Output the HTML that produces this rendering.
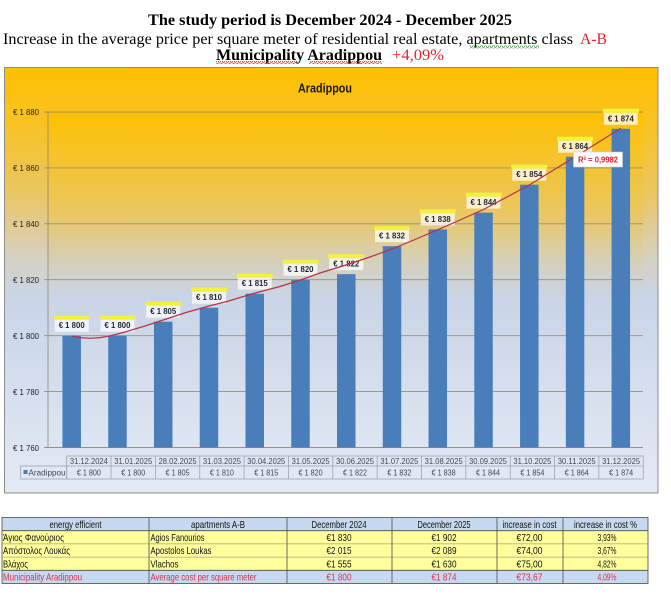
<!DOCTYPE html>
<html><head><meta charset="utf-8"><style>
html,body{margin:0;padding:0;background:#fff;}
svg{display:block;}
text{font-family:"Liberation Sans",sans-serif;}
.serif{font-family:"Liberation Serif",serif;}
</style></head><body>
<svg width="671" height="598" viewBox="0 0 671 598" xmlns="http://www.w3.org/2000/svg">
<defs>
<linearGradient id="gOut" x1="0" y1="0" x2="0" y2="1">
<stop offset="0" stop-color="#FFC000"/>
<stop offset="0.11" stop-color="#FAC21C"/>
<stop offset="0.29" stop-color="#EBC560"/>
<stop offset="0.45" stop-color="#D5D1C4"/>
<stop offset="0.55" stop-color="#C8D5EA"/>
<stop offset="1" stop-color="#E4EAF4"/>
</linearGradient>
<linearGradient id="gPlot" x1="0" y1="0" x2="0" y2="1">
<stop offset="0" stop-color="#FFC000"/>
<stop offset="0.3" stop-color="#EAC760"/>
<stop offset="0.45" stop-color="#D5D0BC"/>
<stop offset="0.55" stop-color="#C9D4E6"/>
<stop offset="1" stop-color="#DDE6F2"/>
</linearGradient>
<pattern id="wvR" width="4" height="3" patternUnits="userSpaceOnUse"><path d="M0 2.5 L1 0.5 L2 0.5 L3 2.5 L4 2.5" fill="none" stroke="#e03030" stroke-width="0.8"/></pattern>
<pattern id="wvG" width="4" height="3" patternUnits="userSpaceOnUse"><path d="M0 2.5 L1 0.5 L2 0.5 L3 2.5 L4 2.5" fill="none" stroke="#40a040" stroke-width="0.8"/></pattern>
</defs>

<!-- Headings -->
<text class="serif" x="148" y="25" font-size="16" font-weight="bold" textLength="364" lengthAdjust="spacingAndGlyphs" style="font-family:'Liberation Serif',serif">The study period is December 2024 - December 2025</text>
<text x="3" y="44" font-size="16" textLength="570" lengthAdjust="spacingAndGlyphs" style="font-family:'Liberation Serif',serif">Increase in the average price per square meter of residential real estate, apartments class</text>
<text x="580" y="44" font-size="16" fill="#e8202a" textLength="27" lengthAdjust="spacingAndGlyphs" style="font-family:'Liberation Serif',serif">A-B</text>
<rect x="469" y="45.5" width="70" height="3" fill="url(#wvG)"/>
<text x="216" y="60" font-size="16" font-weight="bold" textLength="166" lengthAdjust="spacingAndGlyphs" style="font-family:'Liberation Serif',serif">Municipality  Aradippou</text>
<text x="392" y="60" font-size="16" fill="#e8202a" textLength="52" lengthAdjust="spacingAndGlyphs" style="font-family:'Liberation Serif',serif">+4,09%</text>
<rect x="216" y="61" width="82" height="3" fill="url(#wvR)"/>
<rect x="309" y="61" width="73" height="3" fill="url(#wvR)"/>

<!-- Chart area -->
<rect x="4.5" y="67.5" width="653.5" height="425.5" fill="url(#gOut)" stroke="#8c8c8c" stroke-width="1"/>
<rect x="48" y="112" width="595" height="335.5" fill="url(#gPlot)"/>
<text x="325" y="92.5" font-size="12.5" font-weight="bold" fill="#1a1a1a" text-anchor="middle" textLength="54" lengthAdjust="spacingAndGlyphs">Aradippou</text>

<!-- gridlines -->
<g stroke="#8a8470" stroke-width="0.9" opacity="0.85">
<line x1="44" y1="112" x2="643" y2="112"/>
<line x1="44" y1="167.9" x2="643" y2="167.9"/>
<line x1="44" y1="223.8" x2="643" y2="223.8"/>
<line x1="44" y1="279.7" x2="643" y2="279.7"/>
<line x1="44" y1="335.7" x2="643" y2="335.7"/>
<line x1="44" y1="391.6" x2="643" y2="391.6"/>
<line x1="44" y1="447.5" x2="643" y2="447.5"/>
<line x1="48" y1="112" x2="48" y2="447.5"/>
</g>

<!-- y labels -->
<g font-size="8.5" fill="#222" text-anchor="end">
<text x="39" y="115" textLength="26" lengthAdjust="spacingAndGlyphs">€ 1 880</text>
<text x="39" y="171" textLength="26" lengthAdjust="spacingAndGlyphs">€ 1 860</text>
<text x="39" y="227" textLength="26" lengthAdjust="spacingAndGlyphs">€ 1 840</text>
<text x="39" y="283" textLength="26" lengthAdjust="spacingAndGlyphs">€ 1 820</text>
<text x="39" y="339" textLength="26" lengthAdjust="spacingAndGlyphs">€ 1 800</text>
<text x="39" y="395" textLength="26" lengthAdjust="spacingAndGlyphs">€ 1 780</text>
<text x="39" y="451" textLength="26" lengthAdjust="spacingAndGlyphs">€ 1 760</text>
</g>

<!-- bars -->
<g fill="#4A7EBB">
<rect x="62.45" y="335.66" width="18.5" height="111.84"/>
<rect x="108.21" y="335.66" width="18.5" height="111.84"/>
<rect x="153.97" y="321.68" width="18.5" height="125.82"/>
<rect x="199.73" y="307.7" width="18.5" height="139.8"/>
<rect x="245.49" y="293.72" width="18.5" height="153.78"/>
<rect x="291.25" y="279.74" width="18.5" height="167.76"/>
<rect x="337.01" y="274.15" width="18.5" height="173.35"/>
<rect x="382.77" y="246.19" width="18.5" height="201.31"/>
<rect x="428.53" y="229.41" width="18.5" height="218.09"/>
<rect x="474.29" y="212.64" width="18.5" height="234.86"/>
<rect x="520.05" y="184.68" width="18.5" height="262.82"/>
<rect x="565.81" y="156.72" width="18.5" height="290.78"/>
<rect x="611.57" y="128.76" width="18.5" height="318.74"/>
</g>

<!-- data labels -->
<g>
<g fill="#F2F23A">
<rect x="53.7" y="315.7" width="36" height="4"/>
<rect x="99.46" y="315.7" width="36" height="4"/>
<rect x="145.22" y="301.7" width="36" height="4"/>
<rect x="190.98" y="287.7" width="36" height="4"/>
<rect x="236.74" y="273.7" width="36" height="4"/>
<rect x="282.5" y="259.7" width="36" height="4"/>
<rect x="328.26" y="254.2" width="36" height="4"/>
<rect x="374.02" y="226.2" width="36" height="4"/>
<rect x="419.78" y="209.4" width="36" height="4"/>
<rect x="465.54" y="192.6" width="36" height="4"/>
<rect x="511.3" y="164.7" width="36" height="4"/>
<rect x="557.06" y="136.7" width="36" height="4"/>
<rect x="602.82" y="108.8" width="36" height="4"/>
</g>
<g fill="#ffffff" opacity="0.72">
<rect x="54.7" y="319.7" width="34" height="12"/>
<rect x="100.46" y="319.7" width="34" height="12"/>
<rect x="146.22" y="305.7" width="34" height="12"/>
<rect x="191.98" y="291.7" width="34" height="12"/>
<rect x="237.74" y="277.7" width="34" height="12"/>
<rect x="283.5" y="263.7" width="34" height="12"/>
<rect x="329.26" y="258.2" width="34" height="12"/>
<rect x="375.02" y="230.2" width="34" height="12"/>
<rect x="420.78" y="213.4" width="34" height="12"/>
<rect x="466.54" y="196.6" width="34" height="12"/>
<rect x="512.3" y="168.7" width="34" height="12"/>
<rect x="558.06" y="140.7" width="34" height="12"/>
<rect x="603.82" y="112.8" width="34" height="12"/>
</g>
<g font-size="8.5" font-weight="bold" fill="#1f2838" text-anchor="middle">
<text x="71.7" y="328.2" textLength="26" lengthAdjust="spacingAndGlyphs">€ 1 800</text>
<text x="117.46" y="328.2" textLength="26" lengthAdjust="spacingAndGlyphs">€ 1 800</text>
<text x="163.22" y="314.2" textLength="26" lengthAdjust="spacingAndGlyphs">€ 1 805</text>
<text x="208.98" y="300.2" textLength="26" lengthAdjust="spacingAndGlyphs">€ 1 810</text>
<text x="254.74" y="286.2" textLength="26" lengthAdjust="spacingAndGlyphs">€ 1 815</text>
<text x="300.5" y="272.2" textLength="26" lengthAdjust="spacingAndGlyphs">€ 1 820</text>
<text x="346.26" y="266.7" textLength="26" lengthAdjust="spacingAndGlyphs">€ 1 822</text>
<text x="392.02" y="238.7" textLength="26" lengthAdjust="spacingAndGlyphs">€ 1 832</text>
<text x="437.78" y="221.9" textLength="26" lengthAdjust="spacingAndGlyphs">€ 1 838</text>
<text x="483.54" y="205.1" textLength="26" lengthAdjust="spacingAndGlyphs">€ 1 844</text>
<text x="529.3" y="177.2" textLength="26" lengthAdjust="spacingAndGlyphs">€ 1 854</text>
<text x="575.06" y="149.2" textLength="26" lengthAdjust="spacingAndGlyphs">€ 1 864</text>
<text x="620.82" y="121.3" textLength="26" lengthAdjust="spacingAndGlyphs">€ 1 874</text>
</g>
</g>

<!-- trendline -->
<polyline fill="none" stroke="#B8304A" stroke-width="1.2" stroke-linejoin="round" points="71.7,336 80,337.6 90,338.3 100,337.6 108,336.3 117.5,334 126.7,331.5 145,326 163.2,320 186,312.5 209,306 227,301.5 255,293 280,286.5 300.5,280 320,273 346,265 370,257 392,249 415,239.5 437.6,229.8 460,220 483.5,209.5 506,197.5 529.3,185 552,171 575,157 598,142.5 620.8,128.3"/>

<!-- R2 box -->
<rect x="573.5" y="152" width="49" height="15" fill="#ffffff" stroke="#d0d0d0" stroke-width="0.6"/>
<text x="598" y="162.5" font-size="8" font-weight="bold" fill="#e02030" text-anchor="middle" textLength="40" lengthAdjust="spacingAndGlyphs">R² = 0,9982</text>

<!-- chart data table -->
<g stroke="#9aa4b4" stroke-width="0.8" fill="none">
<rect x="66.7" y="456" width="576.55" height="23"/>
<rect x="20.7" y="466" width="46" height="13"/>
<line x1="66.7" y1="466" x2="643.25" y2="466"/>
<line x1="111.05" y1="456" x2="111.05" y2="479"/>
<line x1="155.4" y1="456" x2="155.4" y2="479"/>
<line x1="199.75" y1="456" x2="199.75" y2="479"/>
<line x1="244.1" y1="456" x2="244.1" y2="479"/>
<line x1="288.45" y1="456" x2="288.45" y2="479"/>
<line x1="332.8" y1="456" x2="332.8" y2="479"/>
<line x1="377.15" y1="456" x2="377.15" y2="479"/>
<line x1="421.5" y1="456" x2="421.5" y2="479"/>
<line x1="465.85" y1="456" x2="465.85" y2="479"/>
<line x1="510.2" y1="456" x2="510.2" y2="479"/>
<line x1="554.55" y1="456" x2="554.55" y2="479"/>
<line x1="598.9" y1="456" x2="598.9" y2="479"/>
</g>
<g font-size="8" fill="#404858" text-anchor="middle">
<text x="88.88" y="463.8" textLength="38" lengthAdjust="spacingAndGlyphs">31.12.2024</text>
<text x="133.23" y="463.8" textLength="38" lengthAdjust="spacingAndGlyphs">31.01.2025</text>
<text x="177.58" y="463.8" textLength="38" lengthAdjust="spacingAndGlyphs">28.02.2025</text>
<text x="221.93" y="463.8" textLength="38" lengthAdjust="spacingAndGlyphs">31.03.2025</text>
<text x="266.28" y="463.8" textLength="38" lengthAdjust="spacingAndGlyphs">30.04.2025</text>
<text x="310.63" y="463.8" textLength="38" lengthAdjust="spacingAndGlyphs">31.05.2025</text>
<text x="354.98" y="463.8" textLength="38" lengthAdjust="spacingAndGlyphs">30.06.2025</text>
<text x="399.33" y="463.8" textLength="38" lengthAdjust="spacingAndGlyphs">31.07.2025</text>
<text x="443.68" y="463.8" textLength="38" lengthAdjust="spacingAndGlyphs">31.08.2025</text>
<text x="488.03" y="463.8" textLength="38" lengthAdjust="spacingAndGlyphs">30.09.2025</text>
<text x="532.38" y="463.8" textLength="38" lengthAdjust="spacingAndGlyphs">31.10.2025</text>
<text x="576.73" y="463.8" textLength="38" lengthAdjust="spacingAndGlyphs">30.11.2025</text>
<text x="621.08" y="463.8" textLength="38" lengthAdjust="spacingAndGlyphs">31.12.2025</text>
<text x="88.88" y="475.5" textLength="24" lengthAdjust="spacingAndGlyphs">€ 1 800</text>
<text x="133.23" y="475.5" textLength="24" lengthAdjust="spacingAndGlyphs">€ 1 800</text>
<text x="177.58" y="475.5" textLength="24" lengthAdjust="spacingAndGlyphs">€ 1 805</text>
<text x="221.93" y="475.5" textLength="24" lengthAdjust="spacingAndGlyphs">€ 1 810</text>
<text x="266.28" y="475.5" textLength="24" lengthAdjust="spacingAndGlyphs">€ 1 815</text>
<text x="310.63" y="475.5" textLength="24" lengthAdjust="spacingAndGlyphs">€ 1 820</text>
<text x="354.98" y="475.5" textLength="24" lengthAdjust="spacingAndGlyphs">€ 1 822</text>
<text x="399.33" y="475.5" textLength="24" lengthAdjust="spacingAndGlyphs">€ 1 832</text>
<text x="443.68" y="475.5" textLength="24" lengthAdjust="spacingAndGlyphs">€ 1 838</text>
<text x="488.03" y="475.5" textLength="24" lengthAdjust="spacingAndGlyphs">€ 1 844</text>
<text x="532.38" y="475.5" textLength="24" lengthAdjust="spacingAndGlyphs">€ 1 854</text>
<text x="576.73" y="475.5" textLength="24" lengthAdjust="spacingAndGlyphs">€ 1 864</text>
<text x="621.08" y="475.5" textLength="24" lengthAdjust="spacingAndGlyphs">€ 1 874</text>
</g>
<rect x="23.5" y="470" width="4" height="4" fill="#4A7EBB"/>
<text x="28.5" y="475.5" font-size="8" fill="#404858" textLength="37" lengthAdjust="spacingAndGlyphs">Aradippou</text>

<!-- bottom table -->
<rect x="2" y="517.5" width="646" height="13.2" fill="#C6D9F0"/>
<rect x="2" y="530.7" width="646" height="39.6" fill="#FFFF9C"/>
<rect x="2" y="570.3" width="646" height="13.2" fill="#C6D9F0"/>
<g stroke="#4a4a4a" stroke-width="0.8" fill="none">
<rect x="2" y="517.5" width="646" height="66"/>
<line x1="2" y1="530.7" x2="648" y2="530.7"/>
<line x1="2" y1="543.9" x2="648" y2="543.9" stroke="#777" stroke-width="0.5"/>
<line x1="2" y1="557.1" x2="648" y2="557.1" stroke="#777" stroke-width="0.5"/>
<line x1="2" y1="570.3" x2="648" y2="570.3"/>
<line x1="149" y1="517.5" x2="149" y2="583.5"/>
<line x1="287" y1="517.5" x2="287" y2="583.5"/>
<line x1="392" y1="517.5" x2="392" y2="583.5"/>
<line x1="497" y1="517.5" x2="497" y2="583.5"/>
<line x1="563" y1="517.5" x2="563" y2="583.5"/>
</g>
<g font-size="10.5" fill="#111">
<text x="75.5" y="527.8" text-anchor="middle" textLength="52" lengthAdjust="spacingAndGlyphs">energy efficient</text>
<text x="218" y="527.8" text-anchor="middle" textLength="54" lengthAdjust="spacingAndGlyphs">apartments A-B</text>
<text x="339" y="527.8" text-anchor="middle" textLength="55" lengthAdjust="spacingAndGlyphs">December 2024</text>
<text x="444" y="527.8" text-anchor="middle" textLength="53" lengthAdjust="spacingAndGlyphs">December 2025</text>
<text x="529.5" y="527.8" text-anchor="middle" textLength="54" lengthAdjust="spacingAndGlyphs">increase in cost</text>
<text x="605.5" y="527.8" text-anchor="middle" textLength="63" lengthAdjust="spacingAndGlyphs">increase in cost %</text>

<text x="3" y="541" textLength="61" lengthAdjust="spacingAndGlyphs">Άγιος Φανούριος</text>
<text x="150.5" y="541" textLength="54" lengthAdjust="spacingAndGlyphs">Agios Fanourios</text>
<text x="339" y="541" text-anchor="middle" textLength="25" lengthAdjust="spacingAndGlyphs">€1 830</text>
<text x="444" y="541" text-anchor="middle" textLength="25" lengthAdjust="spacingAndGlyphs">€1 902</text>
<text x="529.5" y="541" text-anchor="middle" textLength="26" lengthAdjust="spacingAndGlyphs">€72,00</text>
<text x="607" y="541" text-anchor="middle" textLength="19" lengthAdjust="spacingAndGlyphs">3,93%</text>

<text x="3" y="554.2" textLength="67" lengthAdjust="spacingAndGlyphs">Απόστολος Λουκάς</text>
<text x="150.5" y="554.2" textLength="61" lengthAdjust="spacingAndGlyphs">Apostolos Loukas</text>
<text x="339" y="554.2" text-anchor="middle" textLength="25" lengthAdjust="spacingAndGlyphs">€2 015</text>
<text x="444" y="554.2" text-anchor="middle" textLength="25" lengthAdjust="spacingAndGlyphs">€2 089</text>
<text x="529.5" y="554.2" text-anchor="middle" textLength="26" lengthAdjust="spacingAndGlyphs">€74,00</text>
<text x="607" y="554.2" text-anchor="middle" textLength="19" lengthAdjust="spacingAndGlyphs">3,67%</text>

<text x="3" y="567.4" textLength="25" lengthAdjust="spacingAndGlyphs">Βλάχος</text>
<text x="150.5" y="567.4" textLength="28" lengthAdjust="spacingAndGlyphs">Vlachos</text>
<text x="339" y="567.4" text-anchor="middle" textLength="25" lengthAdjust="spacingAndGlyphs">€1 555</text>
<text x="444" y="567.4" text-anchor="middle" textLength="25" lengthAdjust="spacingAndGlyphs">€1 630</text>
<text x="529.5" y="567.4" text-anchor="middle" textLength="26" lengthAdjust="spacingAndGlyphs">€75,00</text>
<text x="607" y="567.4" text-anchor="middle" textLength="19" lengthAdjust="spacingAndGlyphs">4,82%</text>
</g>
<g font-size="10.5" fill="#E0304E">
<text x="3" y="580.6" textLength="79" lengthAdjust="spacingAndGlyphs">Municipality Aradippou</text>
<text x="150.5" y="580.6" textLength="106" lengthAdjust="spacingAndGlyphs">Average cost per square meter</text>
<text x="339" y="580.6" text-anchor="middle" textLength="25" lengthAdjust="spacingAndGlyphs">€1 800</text>
<text x="444" y="580.6" text-anchor="middle" textLength="25" lengthAdjust="spacingAndGlyphs">€1 874</text>
<text x="529.5" y="580.6" text-anchor="middle" textLength="26" lengthAdjust="spacingAndGlyphs">€73,67</text>
<text x="607" y="580.6" text-anchor="middle" textLength="19" lengthAdjust="spacingAndGlyphs">4,09%</text>
</g>
</svg>
</body></html>
